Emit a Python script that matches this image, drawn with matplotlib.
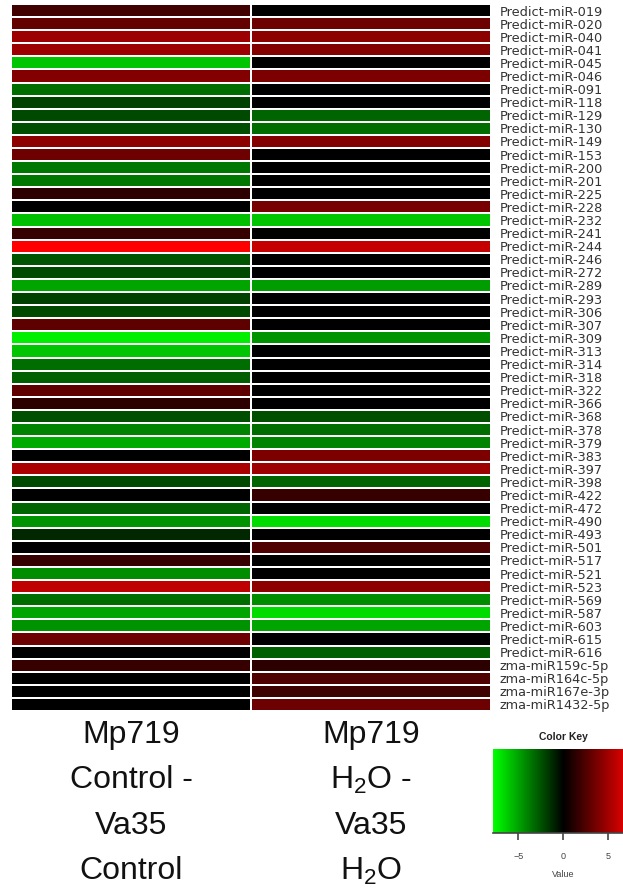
import matplotlib
matplotlib.use("Agg")
import matplotlib.pyplot as plt
import matplotlib.transforms as mtransforms
import numpy as np
from matplotlib.colors import LinearSegmentedColormap

plt.rcParams['font.family'] = ['Liberation Sans', 'DejaVu Sans']
plt.rcParams['mathtext.default'] = 'regular'

mirnas = ["Predict-miR-019", "Predict-miR-020", "Predict-miR-040", "Predict-miR-041",
          "Predict-miR-045", "Predict-miR-046", "Predict-miR-091", "Predict-miR-118",
          "Predict-miR-129", "Predict-miR-130", "Predict-miR-149", "Predict-miR-153",
          "Predict-miR-200", "Predict-miR-201", "Predict-miR-225", "Predict-miR-228",
          "Predict-miR-232", "Predict-miR-241", "Predict-miR-244", "Predict-miR-246",
          "Predict-miR-272", "Predict-miR-289", "Predict-miR-293", "Predict-miR-306",
          "Predict-miR-307", "Predict-miR-309", "Predict-miR-313", "Predict-miR-314",
          "Predict-miR-318", "Predict-miR-322", "Predict-miR-366", "Predict-miR-368",
          "Predict-miR-378", "Predict-miR-379", "Predict-miR-383", "Predict-miR-397",
          "Predict-miR-398", "Predict-miR-422", "Predict-miR-472", "Predict-miR-490",
          "Predict-miR-493", "Predict-miR-501", "Predict-miR-517", "Predict-miR-521",
          "Predict-miR-523", "Predict-miR-569", "Predict-miR-587", "Predict-miR-603",
          "Predict-miR-615", "Predict-miR-616", "zma-miR159c-5p", "zma-miR164c-5p",
          "zma-miR167e-3p", "zma-miR1432-5p"]

# Mp719 Control - Va35 Control
control = [2.0, 3.0, 4.8, 4.8, -6.0, 4.0, -3.3, -2.0, -2.2, -2.4,
           4.3, 3.3, -3.6, -3.6, 1.4, 0.0, -5.8, 1.7, 7.8, -2.6,
           -2.2, -5.0, -2.0, -2.2, 2.9, -7.3, -6.0, -3.3, -2.9, 2.9,
           1.4, -2.4, -4.0, -5.2, 0.0, 5.2, -2.2, 0.0, -3.1, -4.5,
           -1.2, 0.0, 1.7, -4.3, 5.8, -3.3, -5.0, -4.5, 3.3, 0.0,
           1.7, 0.0, 0.0, 0.0]
# Mp719 H2O - Va35 H2O
water = [0.0, 3.3, 4.3, 4.0, 0.0, 3.8, 0.0, 0.0, -3.1, -3.3,
         4.0, 0.0, 0.0, 0.0, 0.0, 3.6, -6.0, 0.0, 6.0, 0.0,
         0.0, -4.8, 0.0, 0.0, 0.0, -4.5, 0.0, 0.0, 0.0, 0.0,
         0.0, -2.4, -3.3, -4.0, 3.8, 4.8, -3.1, 1.7, 0.0, -6.7,
         0.0, 2.4, 0.0, 0.0, 4.3, -4.3, -6.7, -5.0, 0.0, -2.9,
         1.4, 2.4, 1.9, 3.3]

col_labels = [["Mp719", "Control -", "Va35", "Control"],
              ["Mp719", "H$_2$O -", "Va35", "H$_2$O"]]

vlim = 7.8
cmap = LinearSegmentedColormap.from_list("redgreen", ["#00ff00", "#000000", "#ff0000"])

W, H = 623, 890
fig = plt.figure(figsize=(W / 100, H / 100), dpi=100)

def px_axes(x0, y0, x1, y1):
    return fig.add_axes([x0 / W, 1 - y1 / H, (x1 - x0) / W, (y1 - y0) / H])

ax = px_axes(11, 4, 491, 711)
data = np.array([control, water]).T
ax.pcolormesh(data, cmap=cmap, vmin=-vlim, vmax=vlim,
              edgecolors="white", linewidth=1.1)
ax.set_xlim(0, 2)
ax.set_ylim(len(mirnas), 0)
for s in ax.spines.values():
    s.set_visible(False)
ax.set_xticks([])
ax.yaxis.tick_right()
ax.set_yticks(np.arange(len(mirnas)) + 0.5)
ax.set_yticklabels(mirnas, fontsize=9.3, color="#333333", family="DejaVu Sans")
ax.tick_params(axis="y", length=0, pad=6)

# column labels, one line at a time
trans = mtransforms.blended_transform_factory(ax.transData, fig.transFigure)
line_y = [735, 780, 826, 871]
for i, lines in enumerate(col_labels):
    for txt, yy in zip(lines, line_y):
        ax.text(i + 0.5, 1 - yy / H, txt, transform=trans, ha="center",
                va="center", fontsize=23, color="#111111")

# color key
kx = px_axes(493, 749, 633, 833)
grad = np.linspace(-vlim, vlim, 256).reshape(1, -1)
kx.imshow(grad, cmap=cmap, vmin=-vlim, vmax=vlim, aspect="auto",
          extent=[-vlim, vlim, 0, 1])
kx.set_xlim(-vlim, vlim)
kx.set_yticks([])
kx.set_xticks([-5, 0, 5])
kx.tick_params(axis="x", labelsize=6.5, colors="#444444", length=5, width=1.2, pad=9)
for s in ["top", "left", "right"]:
    kx.spines[s].set_visible(False)
kx.spines["bottom"].set_linewidth(1.2)
kx.spines["bottom"].set_color("#444444")
kx.set_xlabel("Value", fontsize=6.5, color="#444444", labelpad=6)
fig.text(563 / W, 1 - 737 / H, "Color Key", ha="center", va="center",
         fontsize=7.5, fontweight="bold", color="#222222")

fig.savefig("out.png", dpi=100)
